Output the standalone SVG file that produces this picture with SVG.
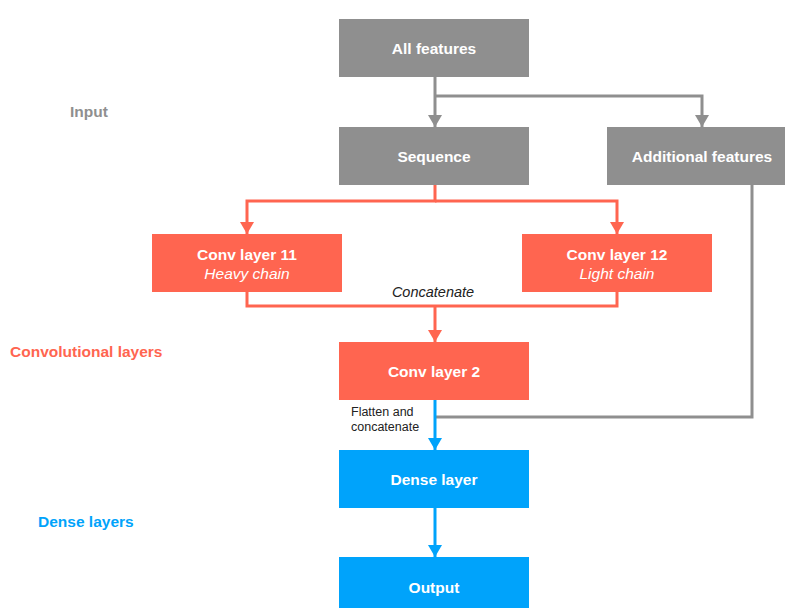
<svg xmlns="http://www.w3.org/2000/svg" width="786" height="608" viewBox="0 0 786 608">
  <style>
    .gray { fill: #8f8f8f; }
    .red { fill: #ff6550; }
    .blue { fill: #00a3fb; }
    .lbl { font-family: "Liberation Sans", Arial, sans-serif; font-size: 15.5px; font-weight: bold; fill: #ffffff; text-anchor: middle; }
    .sub { font-family: "Liberation Sans", Arial, sans-serif; font-size: 15.5px; font-style: italic; fill: #ffffff; text-anchor: middle; }
    .note { font-family: "Liberation Sans", Arial, sans-serif; font-size: 12.5px; fill: #222222; }
    .note.merge { font-size: 14.5px; font-style: italic; text-anchor: middle; }
    .sec { font-family: "Liberation Sans", Arial, sans-serif; font-size: 15.5px; font-weight: bold; }
    .wire { fill: none; stroke-width: 3; }
  </style>
  <defs>
    <marker id="ahGray" viewBox="0 0 12 14" refX="12" refY="7" markerWidth="12" markerHeight="14" markerUnits="userSpaceOnUse" orient="auto">
      <path d="M0,0 L12,7 L0,14 Z" fill="#8f8f8f"/>
    </marker>
    <marker id="ahRed" viewBox="0 0 12 14" refX="12" refY="7" markerWidth="12" markerHeight="14" markerUnits="userSpaceOnUse" orient="auto">
      <path d="M0,0 L12,7 L0,14 Z" fill="#ff6550"/>
    </marker>
    <marker id="ahBlue" viewBox="0 0 12 14" refX="12" refY="7" markerWidth="12" markerHeight="14" markerUnits="userSpaceOnUse" orient="auto">
      <path d="M0,0 L12,7 L0,14 Z" fill="#00a3fb"/>
    </marker>
  </defs>

  <!-- section labels -->
  <text class="sec" x="70" y="117" fill="#8f8f8f">Input</text>
  <text class="sec" x="10" y="357" fill="#ff6550">Convolutional layers</text>
  <text class="sec" x="38" y="527" fill="#00a3fb">Dense layers</text>

  <!-- connectors -->
  <g id="connectors">
    <path class="wire" stroke="#8f8f8f" d="M435,77 V127" marker-end="url(#ahGray)"/>
    <path class="wire" stroke="#8f8f8f" d="M435,96 H702 V127" marker-end="url(#ahGray)"/>
    <path class="wire" stroke="#ff6550" d="M435,185 V201 H247 V234" marker-end="url(#ahRed)"/>
    <path class="wire" stroke="#ff6550" d="M435,201 H617 V234" marker-end="url(#ahRed)"/>
    <path class="wire" stroke="#ff6550" d="M247,292 V306 H617 V292"/>
    <path class="wire" stroke="#ff6550" d="M435,306 V342" marker-end="url(#ahRed)"/>
    <path class="wire" stroke="#8f8f8f" d="M752,185 V417 H435"/>
    <path class="wire" stroke="#00a3fb" d="M435,400 V450" marker-end="url(#ahBlue)"/>
    <path class="wire" stroke="#00a3fb" d="M435,508 V557" marker-end="url(#ahBlue)"/>
    <text class="note merge" x="433" y="297">Concatenate</text>
    <text class="note" x="351" y="416">Flatten and</text>
    <text class="note" x="351" y="431">concatenate</text>
  </g>

  <!-- nodes -->
  <g id="all-features">
    <rect class="gray" x="339" y="19" width="190" height="58"/>
    <text class="lbl" x="434" y="54">All features</text>
  </g>
  <g id="sequence">
    <rect class="gray" x="339" y="127" width="190" height="58"/>
    <text class="lbl" x="434" y="162">Sequence</text>
  </g>
  <g id="additional-features">
    <rect class="gray" x="607" y="127" width="178" height="58"/>
    <text class="lbl" x="702" y="162">Additional features</text>
  </g>
  <g id="conv11">
    <rect class="red" x="152" y="234" width="190" height="58"/>
    <text class="lbl" x="247" y="260">Conv layer 11</text>
    <text class="sub" x="247" y="279">Heavy chain</text>
  </g>
  <g id="conv12">
    <rect class="red" x="522" y="234" width="190" height="58"/>
    <text class="lbl" x="617" y="260">Conv layer 12</text>
    <text class="sub" x="617" y="279">Light chain</text>
  </g>
  <g id="conv2">
    <rect class="red" x="339" y="342" width="190" height="58"/>
    <text class="lbl" x="434" y="377">Conv layer 2</text>
  </g>
  <g id="dense">
    <rect class="blue" x="339" y="450" width="190" height="58"/>
    <text class="lbl" x="434" y="485">Dense layer</text>
  </g>
  <g id="output">
    <rect class="blue" x="339" y="557" width="190" height="58"/>
    <text class="lbl" x="434" y="593">Output</text>
  </g>
</svg>
